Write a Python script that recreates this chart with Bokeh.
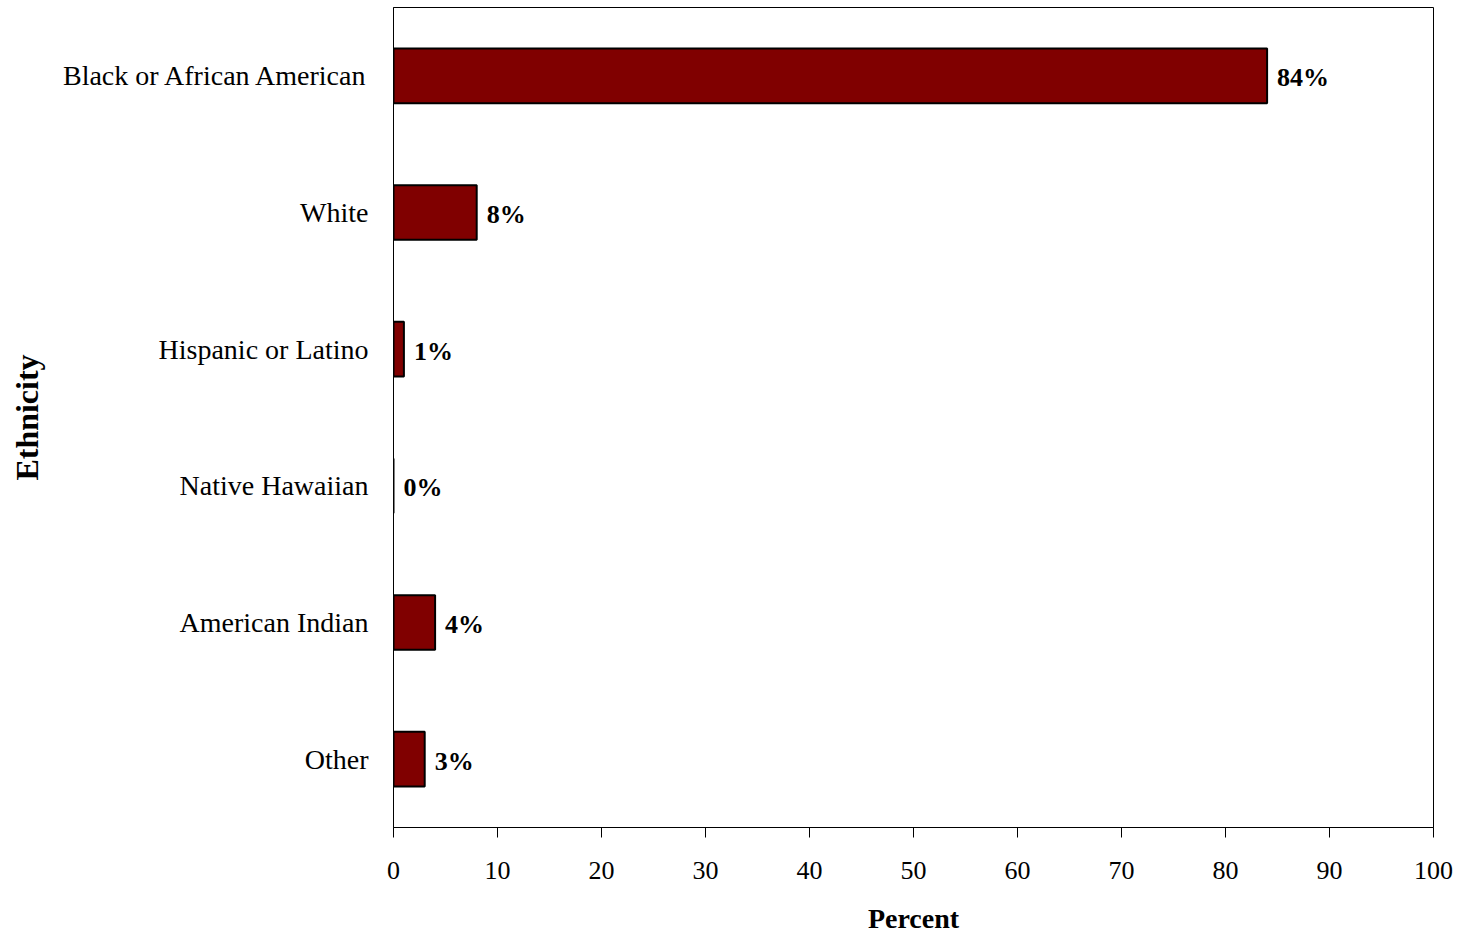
from bokeh.plotting import figure
from bokeh.models import Range1d, FactorRange, FixedTicker, ColumnDataSource
from bokeh.core.properties import value
from bokeh.embed import file_html
from bokeh.resources import INLINE

categories = ["Black or African American", "White", "Hispanic or Latino",
              "Native Hawaiian", "American Indian", "Other"]
percents = [84, 8, 1, 0, 4, 3]
x_ticks = [0, 10, 20, 30, 40, 50, 60, 70, 80, 90, 100]
x_title = "Percent"
y_title = "Ethnicity"

FONT = "Liberation Serif"

src = ColumnDataSource(dict(
    cat=categories,
    val=percents,
    lab=[f"{v}%" for v in percents],
))

p = figure(
    width=1461, height=936,
    x_range=Range1d(0, 100),
    y_range=FactorRange(factors=list(reversed(categories))),
    output_backend="svg", toolbar_location=None,
    min_border_left=393, min_border_right=28,
    min_border_top=7, min_border_bottom=109,
    background_fill_color="white", border_fill_color="white",
)

p.hbar(y="cat", right="val", left=0, height=0.4, source=src,
       fill_color="#800000", line_color="black", line_width=2)

p.text(x="val", y="cat", text="lab", source=src, x_offset=10, y_offset=2,
       text_align="left", text_baseline="middle",
       text_font=value(FONT), text_font_size="26px", text_font_style="bold",
       text_color="black")

p.outline_line_color = "black"
p.outline_line_width = 1
p.xgrid.visible = False
p.ygrid.visible = False

xa = p.xaxis[0]
xa.ticker = FixedTicker(ticks=x_ticks)
xa.major_tick_in = 0
xa.major_tick_out = 10
xa.minor_tick_line_color = None
xa.axis_line_color = "black"
xa.major_tick_line_color = "black"
xa.major_label_text_font = FONT
xa.major_label_text_font_size = "26px"
xa.major_label_text_color = "black"
xa.major_label_standoff = 24
xa.axis_label = x_title
xa.axis_label_text_font = FONT
xa.axis_label_text_font_size = "28px"
xa.axis_label_text_font_style = "bold"
xa.axis_label_text_color = "black"
xa.axis_label_standoff = 21

ya = p.yaxis[0]
ya.major_tick_in = 0
ya.major_tick_out = 0
ya.major_tick_line_color = None
ya.minor_tick_line_color = None
ya.axis_line_color = "black"
ya.major_label_text_font = FONT
ya.major_label_text_font_size = "28px"
ya.major_label_text_color = "black"
ya.major_label_standoff = 25
ya.axis_label = y_title
ya.axis_label_text_font = FONT
ya.axis_label_text_font_size = "32px"
ya.axis_label_text_font_style = "bold"
ya.axis_label_text_color = "black"
ya.axis_label_standoff = 15

open("out.html", "w").write(file_html(p, INLINE))
